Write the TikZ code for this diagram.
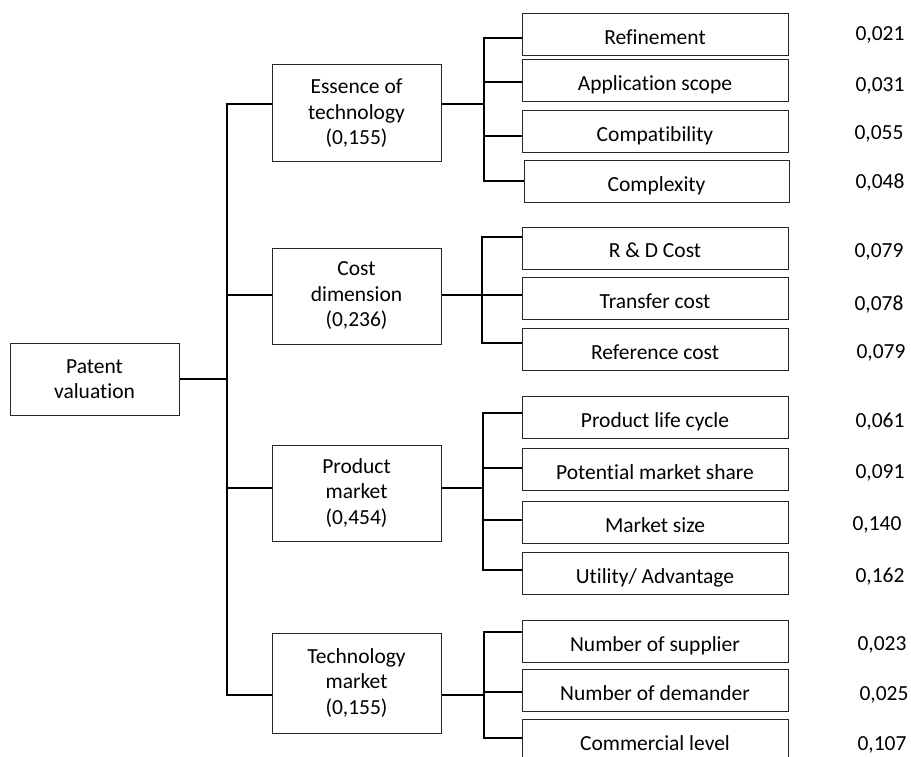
\documentclass[tikz,border=0pt]{standalone}
\usepackage{fontspec}
\setmainfont{Carlito}[Ligatures=NoCommon]
\begin{document}
\begin{tikzpicture}[x=1pt,y=-1pt,
  box/.style={draw=black!85, line width=1pt, inner sep=0pt, font=\fontsize{21.5}{25.5}\selectfont},
  mid/.style={box, align=center, minimum width=169pt},
  leaf/.style={box, minimum width=266pt, minimum height=42pt, text height=22pt, text depth=2pt},
  val/.style={font=\fontsize{21.5}{24}\selectfont, inner sep=0pt, anchor=base},
  conn/.style={line width=1.7pt, black}]
\useasboundingbox (0,0) rectangle (911,757);
\clip (0,0) rectangle (911,757);

% root
\node[box, align=center, minimum width=169pt, minimum height=72pt] (pv) at (94.5,379) {Patent\\valuation};

% level 2
\node[mid, minimum height=97pt] (ess) at (356.5,113.5) {Essence of\\technology\\(0,155)};
\node[mid, minimum height=96pt] (cost) at (356.5,296) {Cost\\dimension\\(0,236)};
\node[mid, minimum height=96pt] (prod) at (356.5,493) {Product\\market\\(0,454)};
\node[mid, minimum height=100pt] (tech) at (356.5,683) {Technology\\market\\(0,155)};

% leaves
\node[leaf] (ref)  at (655,34.5) {Refinement};
\node[leaf] (app)  at (655,81)   {Application scope};
\node[leaf] (comp) at (655,131.5) {Compatibility};
\node[leaf, minimum width=265pt] (cplx) at (656.5,182) {Complexity};

\node[leaf] (rd)  at (655,248)   {R \& D Cost};
\node[leaf] (tr)  at (655,298)   {Transfer cost};
\node[leaf] (rc)  at (655,349.5) {Reference cost};

\node[leaf] (plc) at (655,417) {Product life cycle};
\node[leaf] (pms) at (655,469) {Potential market share};
\node[leaf] (ms)  at (655,522) {Market size};
\node[leaf] (ut)  at (655,573) {Utility/ Advantage};

\node[leaf] (sup) at (655,641) {Number of supplier};
\node[leaf] (dem) at (655,690) {Number of demander};
\node[leaf] (com) at (655,740) {Commercial level};

% values
\node[val] (v1)  at (880,41)  {0,021};
\node[val] (v2)  at (880,92)  {0,031};
\node[val] (v3)  at (879,140) {0,055};
\node[val] (v4)  at (880,189) {0,048};
\node[val] (v5)  at (879,258) {0,079};
\node[val] (v6)  at (879,310) {0,078};
\node[val] (v7)  at (881,358) {0,079};
\node[val] (v8)  at (880,427) {0,061};
\node[val] (v9)  at (880,478) {0,091};
\node[val] (v10) at (877,530) {0,140};
\node[val] (v11) at (880,582) {0,162};
\node[val] (v12) at (882,650) {0,023};
\node[val] (v13) at (884,700) {0,025};
\node[val] (v14) at (882,750) {0,107};

% trunk
\coordinate (t1) at (227,104);
\coordinate (t2) at (227,295);
\coordinate (t3) at (227,488);
\coordinate (t4) at (227,695);
\draw[conn] (t1 -| ess.west) -- (t1) -- (t4) -- (t4 -| tech.west);
\draw[conn] (t2) -- (t2 -| cost.west);
\draw[conn] (t3) -- (t3 -| prod.west);
\draw[conn] (pv.east) -- (pv.east -| t1);

% essence group
\coordinate (ea) at (484,104);
\coordinate (e1) at (484,38);
\coordinate (e2) at (484,82);
\coordinate (e3) at (484,136);
\coordinate (e4) at (484,181);
\draw[conn] (ess.east |- ea) -- (ea);
\draw[conn] (e1 -| ref.west) -- (e1) -- (e4) -- (e4 -| cplx.west);
\draw[conn] (e2) -- (e2 -| app.west);
\draw[conn] (e3) -- (e3 -| comp.west);

% cost group
\coordinate (c1) at (482,237);
\coordinate (c2) at (482,295);
\coordinate (c3) at (482,343);
\draw[conn] (cost.east |- c2) -- (c2) -- (c2 -| tr.west);
\draw[conn] (c1 -| rd.west) -- (c1) -- (c3) -- (c3 -| rc.west);

% product group
\coordinate (pa) at (483,488);
\coordinate (p1) at (483,413);
\coordinate (p2) at (483,468);
\coordinate (p3) at (483,520);
\coordinate (p4) at (483,570);
\draw[conn] (prod.east |- pa) -- (pa);
\draw[conn] (p1 -| plc.west) -- (p1) -- (p4) -- (p4 -| ut.west);
\draw[conn] (p2) -- (p2 -| pms.west);
\draw[conn] (p3) -- (p3 -| ms.west);

% technology group
\coordinate (q1) at (484,632);
\coordinate (q2) at (484,692);
\coordinate (q3) at (484,738);
\coordinate (qa) at (484,695);
\draw[conn] (tech.east |- qa) -- (qa);
\draw[conn] (q1 -| sup.west) -- (q1) -- (q3) -- (q3 -| com.west);
\draw[conn] (q2) -- (q2 -| dem.west);
\end{tikzpicture}
\end{document}
